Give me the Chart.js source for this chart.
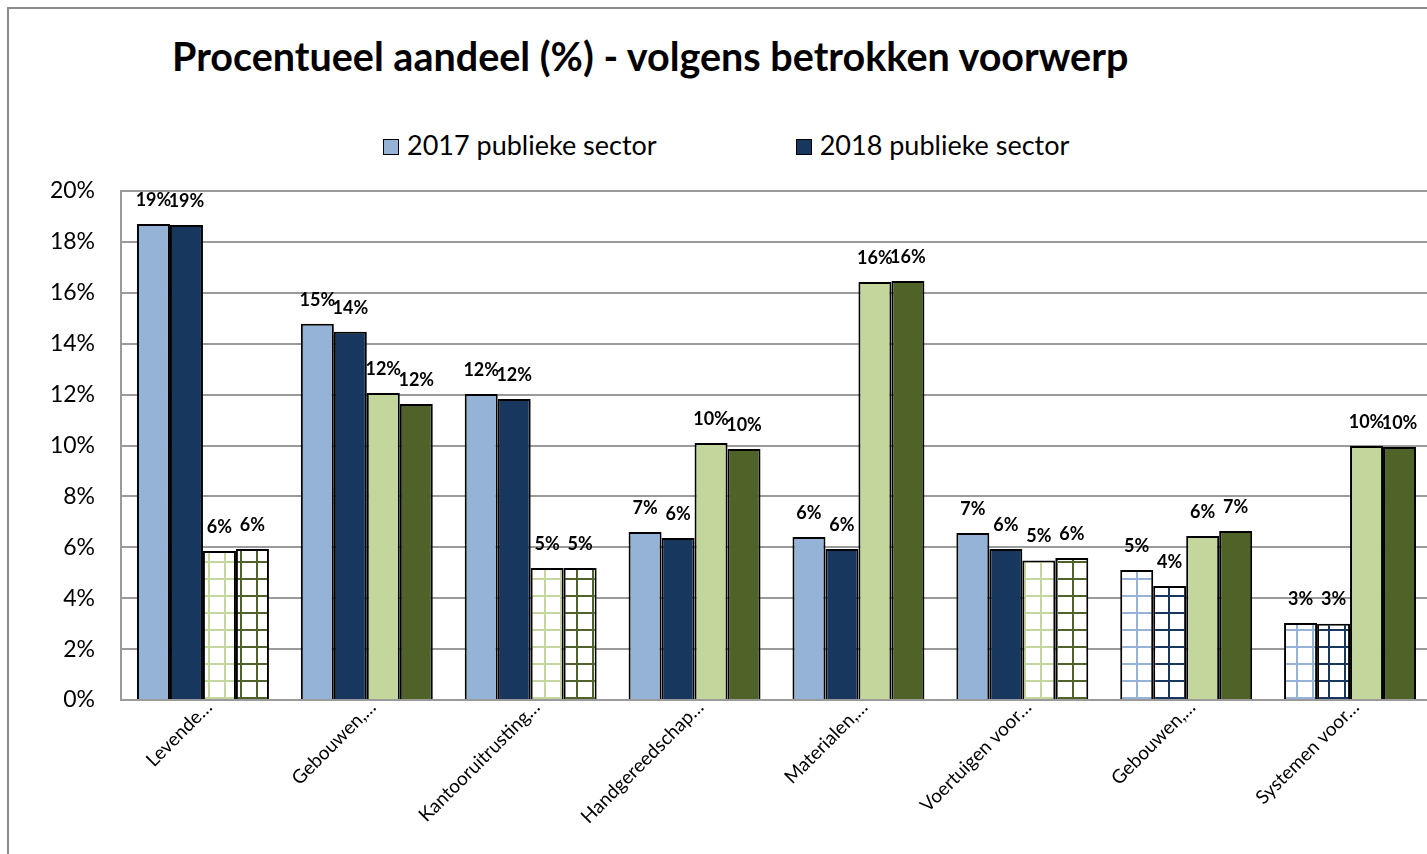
<!DOCTYPE html>
<html>
<head>
<meta charset="utf-8">
<script src="https://cdn.jsdelivr.net/npm/chart.js@4.4.0/dist/chart.umd.min.js"></script>
<style>
  html, body { margin: 0; padding: 0; background: #fff; width: 1427px; height: 854px; overflow: hidden; }
  #frame { position: absolute; left: 7px; top: 7px; width: 1500px; height: 900px;
           border-left: 2px solid #8c8c8c; border-top: 2px solid #8c8c8c; }
  #title { position: absolute; left: 172px; top: 36px; font: bold 39.5px Lato, sans-serif;
           line-height: 40px; color: #000; white-space: nowrap; }
  #legend { position: absolute; left: 383px; top: 129px; display: flex; gap: 139px;
            font: 27px Lato, sans-serif; line-height: 32px; color: #000; }
  #legend span.box { display: inline-block; width: 14px; height: 14px; border: 1px solid #000;
                     margin-right: 8px; vertical-align: 0px; }
  #wrap { position: absolute; left: 0; top: 0; width: 1432px; height: 854px; }
</style>
</head>
<body>
<div id="frame"></div>
<div id="title">Procentueel aandeel (%) - volgens betrokken voorwerp</div>
<div id="legend"></div>
<div id="wrap"><canvas id="chart"></canvas></div>
<script>
// categories (Excel truncated the long names)
const categories = [
  "Levende…", "Gebouwen,…", "Kantooruitrusting…", "Handgereedschap…",
  "Materialen,…", "Voertuigen voor…", "Gebouwen,…", "Systemen voor…",
];
const seriesNames = ["2017 publieke sector", "2018 publieke sector", "2017 private sector", "2018 private sector"];
const legendShown = ["2017 publieke sector", "2018 publieke sector"];

// values in %
const pub2017 = [18.70, 14.78, 12.02, 6.60, 6.40, 6.56, 5.11, 3.03];
const pub2018 = [18.66, 14.47, 11.83, 6.37, 5.93, 5.93, 4.48, 3.00];
const priv2017 = [5.85, 12.06, 5.19, 10.10, 16.42, 5.48, 6.44, 9.98];
const priv2018 = [5.93, 11.63, 5.19, 9.86, 16.46, 5.58, 6.64, 9.94];

// bars drawn with a grid pattern instead of a solid fill
const hatchPub = [false, false, false, false, false, false, true, true];
const hatchPriv = [true, false, true, false, false, true, false, false];

const yTicks = [0, 2, 4, 6, 8, 10, 12, 14, 16, 18, 20];

const colors = ["#95b3d7", "#17375e", "#c3d69b", "#4f6228"];

function gridPattern(color) {
  const c = document.createElement("canvas");
  c.width = 16;
  c.height = 17;
  const g = c.getContext("2d");
  g.fillStyle = "#fff";
  g.fillRect(0, 0, 16, 17);
  g.fillStyle = color;
  g.fillRect(0, 0, 2, 17);
  g.fillRect(0, 0, 16, 2);
  return g.createPattern(c, "repeat");
}

function fills(color, hatch) {
  const pat = gridPattern(color);
  return hatch.map((h) => (h ? pat : color));
}

// legend (only the two entries that fit in the original)
document.getElementById("legend").innerHTML = legendShown
  .map((name) => {
    const i = seriesNames.indexOf(name);
    return `<div><span class="box" style="background:${colors[i]}"></span>${name}</div>`;
  })
  .join("");

const barLabels = {
  id: "barLabels",
  afterDatasetsDraw(chart) {
    const ctx = chart.ctx;
    ctx.save();
    ctx.font = "bold 18px Lato, sans-serif";
    ctx.fillStyle = "#000";
    ctx.textAlign = "center";
    ctx.textBaseline = "middle";
    chart.data.datasets.forEach((ds, di) => {
      chart.getDatasetMeta(di).data.forEach((bar, i) => {
        ctx.fillText(Math.round(ds.data[i]) + "%", bar.x, bar.y - 24);
      });
    });
    ctx.restore();
  },
};

const datasets = [
  { data: pub2017, hatch: hatchPub },
  { data: pub2018, hatch: hatchPub },
  { data: priv2017, hatch: hatchPriv },
  { data: priv2018, hatch: hatchPriv },
].map((s, i) => ({
  label: seriesNames[i],
  data: s.data,
  backgroundColor: fills(colors[i], s.hatch),
  borderColor: "#000",
  borderWidth: 2,
  borderSkipped: "bottom",
  categoryPercentage: 0.805,
  barPercentage: 1.0,
}));

new Chart(document.getElementById("chart"), {
  type: "bar",
  data: { labels: categories, datasets },
  options: {
    responsive: true,
    maintainAspectRatio: false,
    animation: false,
    layout: { padding: { top: 191, left: 0, right: 0, bottom: 0 } },
    plugins: {
      legend: { display: false },
      title: { display: false },
      tooltip: { enabled: false },
    },
    scales: {
      x: {
        grid: { display: false, drawTicks: false },
        border: { color: "#9a9a9a", width: 2 },
        ticks: {
          color: "#000",
          font: { family: "Lato, sans-serif", size: 19 },
          minRotation: 45,
          maxRotation: 45,
          padding: -4,
          labelOffset: 6,
        },
        afterFit(scale) { scale.height = 154; },
      },
      y: {
        min: 0,
        max: 20,
        afterBuildTicks(scale) { scale.ticks = yTicks.map((v) => ({ value: v })); },
        grid: { color: "#9a9a9a", lineWidth: 2, drawTicks: false },
        border: { color: "#9a9a9a", width: 2 },
        ticks: {
          color: "#000",
          font: { family: "Lato, sans-serif", size: 23 },
          padding: 26,
          callback: (v) => v + "%",
        },
        afterFit(scale) { scale.width = 121; },
      },
    },
  },
  plugins: [barLabels],
});
</script>
</body>
</html>
